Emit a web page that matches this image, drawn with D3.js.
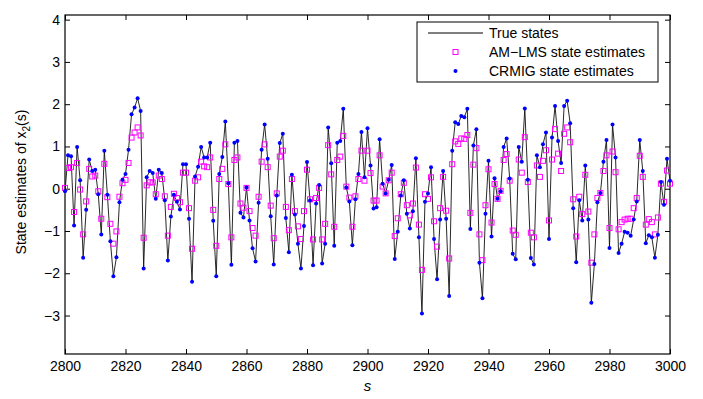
<!DOCTYPE html>
<html>
<head>
<meta charset="utf-8">
<script src="https://cdn.jsdelivr.net/npm/d3@7"></script>
<style>
  body { margin: 0; background: white; }
  text { font-family: "Liberation Sans", Arial, sans-serif; }
</style>
</head>
<body>
<div class="chart"></div>
<script>
// time steps s = 2800 ... 3000
var steps = d3.range(2800, 3001);

var trueStates = [
  -0.06, 0.79, 0.77, -0.87, 0.99, 0.20, -1.63, -0.50, 0.69, 0.42,
  0.45, -0.13, -1.08, 0.90, -0.14, -1.24, -2.07, -1.62, -0.32, 0.21,
  0.35, 0.92, 1.76, 1.92, 2.14, 1.84, -1.89, 0.27, 0.42, 0.37,
  -0.24, 0.45, 0.37, -0.27, -1.70, -0.66, -0.14, -0.31, -0.49, 0.58,
  0.58, -0.71, -2.20, 0.29, 0.52, 0.99, 0.74, 0.74, 1.09, -0.76,
  -2.07, 0.35, 0.75, 1.59, 0.13, -1.80, 1.09, 1.13, -0.57, -0.68,
  0.03, -0.75, -1.41, -1.72, -0.33, 0.92, 1.52, 0.71, -0.65, -1.79,
  -0.16, 1.08, 1.30, -0.69, -1.50, 0.33, -0.61, -1.30, -1.89, -0.88,
  0.63, -0.28, -1.81, -0.35, 0.09, -1.77, -1.30, 1.45, 0.60, -1.35,
  1.09, 1.13, 1.89, 0.03, -0.30, -1.34, -0.25, 0.35, 1.34, 0.27,
  1.43, 0.55, -0.47, -0.44, 1.17, 0.12, -0.11, 0.21, 0.56, -1.66,
  -1.02, -0.16, 0.20, -0.59, -0.94, -0.53, 0.72, -1.15, -2.95, -0.31,
  -0.11, 0.51, -1.19, -2.14, -0.73, 0.42, -0.71, -2.54, 0.90, 1.57,
  1.53, 1.72, 1.69, 1.89, -0.95, 1.02, 1.41, -1.75, -2.59, -0.59,
  0.66, -1.13, 0.25, -0.24, -0.06, 0.99, 1.19, 0.24, -1.54, -1.67,
  0.99, 0.64, 1.90, 0.21, -1.64, -1.79, 0.79, 0.51, 1.05, 1.33,
  -1.19, 1.21, 1.96, 1.13, 0.61, 1.96, 2.08, 1.55, -0.46, -1.74,
  -0.27, -0.75, 0.55, -0.73, -2.70, -1.78, -0.32, -0.10, 0.64, 1.15,
  -1.40, 1.52, 0.74, -1.52, -1.30, -1.02, -1.04, -1.11, -0.73, -0.30,
  1.15, 0.42, -1.29, -1.10, -1.15, -1.63, -1.09, 0.16, -0.38, 0.71,
  0.19
];

var amlms = [
  0.02, 0.49, 0.51, -0.55, 0.61, -0.02, -1.08, -0.30, 0.47, 0.29,
  0.31, -0.06, -0.71, 0.59, -0.20, -0.83, -1.30, -1.01, -0.19, 0.13,
  0.21, 0.61, 1.21, 1.33, 1.45, 1.26, -1.16, 0.08, 0.15, 0.15,
  -0.13, 0.31, 0.23, -0.18, -1.11, -0.43, -0.12, -0.22, -0.32, 0.38,
  0.38, -0.46, -1.42, 0.19, 0.27, 0.64, 0.53, 0.51, 0.74, -0.50,
  -1.35, 0.23, 0.47, 1.05, 0.11, -1.15, 0.68, 0.74, -0.35, -0.45,
  0.02, -0.53, -0.93, -1.11, -0.19, 0.64, 1.05, 0.51, -0.40, -1.17,
  -0.11, 0.76, 0.90, -0.43, -0.98, 0.23, -0.53, -0.89, -1.19, -0.53,
  0.45, -0.25, -1.20, -0.22, 0.02, -1.20, -0.83, 1.03, 0.34, -0.90,
  0.68, 0.76, 1.25, 0.05, -0.21, -0.90, -0.18, 0.23, 0.90, 0.19,
  0.90, 0.37, -0.28, -0.28, 0.79, 0.05, -0.11, 0.20, 0.38, -1.12,
  -0.70, -0.13, 0.14, -0.39, -0.63, -0.35, 0.50, -0.85, -1.92, -0.13,
  -0.24, 0.27, -0.77, -1.37, -0.46, 0.28, -0.52, -1.65, 0.58, 1.12,
  1.06, 1.19, 1.18, 1.27, -0.57, 0.57, 0.96, -1.08, -1.69, -0.39,
  0.46, -0.80, 0.11, -0.24, -0.05, 0.68, 0.82, 0.19, -0.99, -1.09,
  0.69, 0.38, 1.22, 0.16, -1.04, -1.15, 0.55, 0.28, 0.66, 0.91,
  -0.75, 0.69, 1.41, 0.83, 0.42, 1.30, 1.45, 1.10, -0.25, -1.13,
  -0.19, -0.60, 0.33, -0.54, -1.75, -1.08, -0.22, -0.10, 0.42, 0.79,
  -0.93, 0.88, 0.39, -0.96, -0.79, -0.73, -0.71, -0.71, -0.46, -0.22,
  0.78, 0.28, -0.85, -0.72, -0.79, -1.08, -0.68, 0.12, -0.31, 0.43,
  0.12
];

var crmig = [
  -0.06, 0.79, 0.77, -0.87, 0.99, 0.20, -1.63, -0.50, 0.69, 0.42,
  0.45, -0.13, -1.08, 0.90, -0.14, -1.24, -2.07, -1.62, -0.32, 0.21,
  0.35, 0.92, 1.76, 1.92, 2.14, 1.84, -1.89, 0.27, 0.42, 0.37,
  -0.24, 0.45, 0.37, -0.27, -1.70, -0.66, -0.14, -0.31, -0.49, 0.58,
  0.58, -0.71, -2.20, 0.29, 0.52, 0.99, 0.74, 0.74, 1.09, -0.76,
  -2.07, 0.35, 0.75, 1.59, 0.13, -1.80, 1.09, 1.13, -0.57, -0.68,
  0.03, -0.75, -1.41, -1.72, -0.33, 0.92, 1.52, 0.71, -0.65, -1.79,
  -0.16, 1.08, 1.30, -0.69, -1.50, 0.33, -0.61, -1.30, -1.89, -0.88,
  0.63, -0.28, -1.81, -0.35, 0.09, -1.77, -1.30, 1.45, 0.60, -1.35,
  1.09, 1.13, 1.89, 0.03, -0.30, -1.34, -0.25, 0.35, 1.34, 0.27,
  1.43, 0.55, -0.47, -0.44, 1.17, 0.12, -0.11, 0.21, 0.56, -1.66,
  -1.02, -0.16, 0.20, -0.59, -0.94, -0.53, 0.72, -1.15, -2.95, -0.31,
  -0.11, 0.51, -1.19, -2.14, -0.73, 0.42, -0.71, -2.54, 0.90, 1.57,
  1.53, 1.72, 1.69, 1.89, -0.95, 1.02, 1.41, -1.75, -2.59, -0.59,
  0.66, -1.13, 0.25, -0.24, -0.06, 0.99, 1.19, 0.24, -1.54, -1.67,
  0.99, 0.64, 1.90, 0.21, -1.64, -1.79, 0.79, 0.51, 1.05, 1.33,
  -1.19, 1.21, 1.96, 1.13, 0.61, 1.96, 2.08, 1.55, -0.46, -1.74,
  -0.27, -0.75, 0.55, -0.73, -2.70, -1.78, -0.32, -0.10, 0.64, 1.15,
  -1.40, 1.52, 0.74, -1.52, -1.30, -1.02, -1.04, -1.11, -0.73, -0.30,
  1.15, 0.42, -1.29, -1.10, -1.15, -1.63, -1.09, 0.16, -0.38, 0.71,
  0.19
];

var xTicks = [2800, 2820, 2840, 2860, 2880, 2900, 2920, 2940, 2960, 2980, 3000];
var yTicks = [-3, -2, -1, 0, 1, 2, 3, 4];
var legendLabels = ['True states', 'AM\u2212LMS state estimates', 'CRMIG state estimates'];

// plot box (note: "top" is taken by window.top, so prefix these)
var pLeft = 65, pRight = 670, pTop = 15, pBottom = 354;

var x = d3.scaleLinear().domain([2800, 3000]).range([pLeft, pRight]);
var y = d3.scaleLinear().domain([-3.91, 4.11]).range([pBottom, pTop]);

var svg = d3.select('.chart')
    .append('svg')
        .attr('width', 703)
        .attr('height', 399)
        .style('background', 'white');

// axes, ticks pointing inward like matlab
svg.append('g')
    .attr('transform', 'translate(0,' + pBottom + ')')
    .call(d3.axisBottom(x).tickValues(xTicks).tickFormat(d3.format('d'))
        .tickSizeInner(-5).tickSizeOuter(0).tickPadding(7));
svg.append('g')
    .attr('transform', 'translate(0,' + pTop + ')')
    .call(d3.axisTop(x).tickValues(xTicks).tickFormat('')
        .tickSizeInner(-5).tickSizeOuter(0));
svg.append('g')
    .attr('transform', 'translate(' + pLeft + ',0)')
    .call(d3.axisLeft(y).tickValues(yTicks)
        .tickSizeInner(-5).tickSizeOuter(0).tickPadding(5));
svg.append('g')
    .attr('transform', 'translate(' + pRight + ',0)')
    .call(d3.axisRight(y).tickValues(yTicks).tickFormat('')
        .tickSizeInner(-5).tickSizeOuter(0));

svg.selectAll('.domain').remove();
svg.selectAll('.tick line').attr('stroke', '#000');
svg.selectAll('.tick text')
    .attr('fill', '#000')
    .style('font-size', '14px');

svg.append('rect')
    .attr('x', pLeft)
    .attr('y', pTop)
    .attr('width', pRight - pLeft)
    .attr('height', pBottom - pTop)
    .attr('fill', 'none')
    .attr('stroke', '#000')
    .attr('stroke-width', 1.2);

// true states line
svg.append('path')
    .datum(trueStates)
    .attr('fill', 'none')
    .attr('stroke', '#111')
    .attr('stroke-width', 0.9)
    .attr('d', d3.line()
        .x((d, i) => x(steps[i]))
        .y(d => y(d)));

// AM-LMS squares
svg.selectAll('.sq')
    .data(amlms)
    .enter()
        .append('rect')
        .attr('class', 'sq')
        .attr('x', (d, i) => x(steps[i]) - 2.5)
        .attr('y', d => y(d) - 2.5)
        .attr('width', 5)
        .attr('height', 5)
        .attr('fill', 'none')
        .attr('stroke', '#ff00ff')
        .attr('stroke-width', 1);

// CRMIG dots
svg.selectAll('.dot')
    .data(crmig)
    .enter()
        .append('circle')
        .attr('class', 'dot')
        .attr('cx', (d, i) => x(steps[i]))
        .attr('cy', d => y(d))
        .attr('r', 2)
        .attr('fill', '#0000ff');

// axis labels
svg.append('text')
    .attr('x', (pLeft + pRight) / 2)
    .attr('y', 391)
    .attr('text-anchor', 'middle')
    .style('font-size', '15px')
    .style('font-style', 'italic')
    .text('s');

var ylab = svg.append('text')
    .attr('transform', 'translate(26,182) rotate(-90)')
    .attr('text-anchor', 'middle')
    .style('font-size', '14px');
ylab.append('tspan').text('State estimates of x');
ylab.append('tspan').attr('dy', 4).style('font-size', '10px').text('2');
ylab.append('tspan').attr('dy', -4).text('(s)');

// legend
var lg = svg.append('g');
lg.append('rect')
    .attr('x', 417)
    .attr('y', 22)
    .attr('width', 241)
    .attr('height', 60)
    .attr('fill', 'white')
    .attr('stroke', '#000')
    .attr('stroke-width', 1);

var rows = lg.selectAll('g')
    .data(legendLabels)
    .enter()
        .append('g')
        .attr('transform', (d, i) => 'translate(0,' + [33, 52, 71][i] + ')');

rows.append('text')
    .attr('x', 489)
    .attr('y', 5)
    .style('font-size', '14px')
    .text(d => d);

rows.filter((d, i) => i == 0).append('line')
    .attr('x1', 428).attr('x2', 483)
    .attr('stroke', '#000').attr('stroke-width', 1);
rows.filter((d, i) => i == 1).append('rect')
    .attr('x', 453).attr('y', -2.5).attr('width', 5).attr('height', 5)
    .attr('fill', 'none').attr('stroke', '#ff00ff');
rows.filter((d, i) => i == 2).append('circle')
    .attr('cx', 455.5).attr('r', 2).attr('fill', '#0000ff');
</script>
</body>
</html>
